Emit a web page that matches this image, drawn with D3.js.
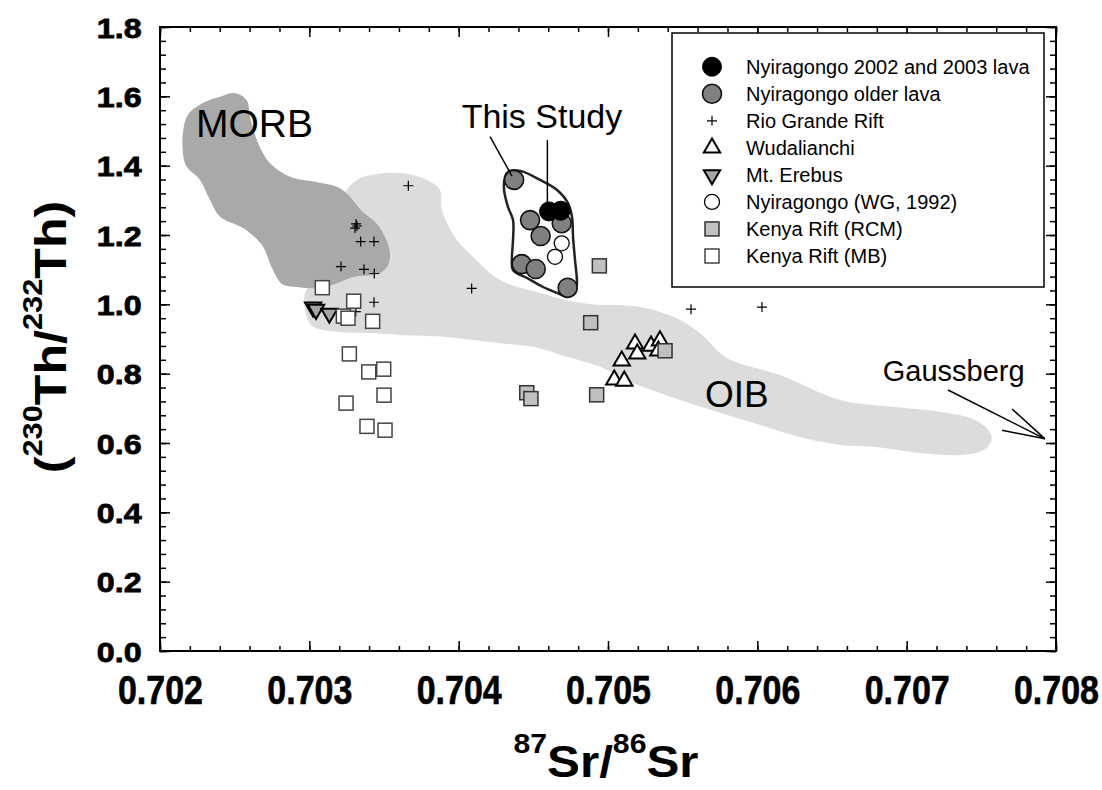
<!DOCTYPE html>
<html>
<head>
<meta charset="utf-8">
<script src="https://cdn.jsdelivr.net/npm/d3@7"></script>
<style>
body { margin: 0; background: #fff; }
svg { display: block; }
text { font-family: "Liberation Sans", Arial, sans-serif; }
</style>
</head>
<body>
<script>
// axis ticks
var xTicks = [0.702, 0.703, 0.704, 0.705, 0.706, 0.707, 0.708];
var xTickLabels = ["0.702", "0.703", "0.704", "0.705", "0.706", "0.707", "0.708"];
var yTicks = [0, 0.2, 0.4, 0.6, 0.8, 1.0, 1.2, 1.4, 1.6, 1.8];
var yTickLabels = ["0.0", "0.2", "0.4", "0.6", "0.8", "1.0", "1.2", "1.4", "1.6", "1.8"];

// [87Sr/86Sr, (230Th/232Th)]
var newLava = [[0.704605, 1.268], [0.704683, 1.270]];
var olderLava = [[0.704371, 1.359], [0.704478, 1.243], [0.704690, 1.234], [0.704549, 1.197],
                 [0.704422, 1.116], [0.704516, 1.102], [0.704730, 1.048]];
var rioGrande = [[0.703663, 1.342], [0.703313, 1.232], [0.703319, 1.226], [0.703306, 1.220],
                 [0.703344, 1.181], [0.703433, 1.181], [0.703212, 1.109], [0.703366, 1.101],
                 [0.703435, 1.089], [0.703433, 1.006], [0.703311, 0.979], [0.704087, 1.046],
                 [0.705556, 0.986], [0.706031, 0.992]];
var wudalianchi = [[0.705181, 0.886], [0.705288, 0.880], [0.705348, 0.895], [0.705196, 0.857],
                   [0.705337, 0.866], [0.705092, 0.837], [0.705042, 0.782], [0.705109, 0.779]];
var erebus = [[0.703025, 0.992], [0.703045, 0.985], [0.703134, 0.974]];
var wg1992 = [[0.704690, 1.176], [0.704645, 1.137]];
var kenyaRcm = [[0.704942, 1.111], [0.704884, 0.947], [0.705382, 0.866], [0.704456, 0.745],
                [0.704484, 0.728], [0.704924, 0.739]];
var kenyaMb = [[0.703087, 1.048], [0.703297, 1.009], [0.703228, 0.966], [0.703259, 0.960],
               [0.703424, 0.951], [0.703268, 0.857], [0.703398, 0.805], [0.703498, 0.813],
               [0.703500, 0.738], [0.703246, 0.715], [0.703386, 0.648], [0.703507, 0.637]];

// field outlines
var morbOutline = [[0.702402, 1.599], [0.702502, 1.609], [0.702581, 1.589], [0.702603, 1.541],
  [0.702658, 1.464], [0.702737, 1.407], [0.702871, 1.368], [0.703027, 1.354], [0.703183, 1.339],
  [0.703250, 1.320], [0.703359, 1.266], [0.703453, 1.232], [0.703507, 1.194], [0.703540, 1.148],
  [0.703527, 1.113], [0.703473, 1.090], [0.703292, 1.079], [0.703185, 1.061], [0.703071, 1.047],
  [0.702917, 1.050], [0.702817, 1.059], [0.702750, 1.105], [0.702683, 1.171], [0.702556, 1.220],
  [0.702402, 1.253], [0.702335, 1.301], [0.702268, 1.359], [0.702167, 1.407], [0.702179, 1.541],
  [0.702288, 1.581]];
var oibOutline = [[0.703172, 1.258], [0.703205, 1.301], [0.703250, 1.330], [0.703317, 1.359],
  [0.703451, 1.376], [0.703627, 1.378], [0.703786, 1.359], [0.703875, 1.330], [0.703888, 1.272],
  [0.703987, 1.186], [0.704096, 1.137], [0.704210, 1.090], [0.704322, 1.061], [0.704545, 1.033],
  [0.704766, 1.008], [0.704947, 0.998], [0.705060, 0.998], [0.705214, 0.992], [0.705348, 0.978],
  [0.705482, 0.955], [0.705616, 0.917], [0.705797, 0.845], [0.706152, 0.796], [0.706554, 0.724],
  [0.706889, 0.705], [0.707223, 0.690], [0.707424, 0.672], [0.707536, 0.643], [0.707570, 0.614],
  [0.707545, 0.589], [0.707491, 0.575], [0.707335, 0.565], [0.707089, 0.571], [0.706775, 0.589],
  [0.706554, 0.594], [0.706286, 0.617], [0.706018, 0.652], [0.705616, 0.705], [0.705348, 0.744],
  [0.705168, 0.773], [0.704947, 0.820], [0.704726, 0.849], [0.704498, 0.878], [0.704277, 0.888],
  [0.703875, 0.907], [0.703627, 0.911], [0.703406, 0.917], [0.703183, 0.921], [0.703025, 0.935],
  [0.702982, 0.964], [0.702971, 1.033], [0.703038, 1.070], [0.703138, 1.157]];
var studyOutline = [[0.704330, 1.382], [0.704411, 1.385], [0.704545, 1.359], [0.704659, 1.330],
  [0.704732, 1.292], [0.704759, 1.252], [0.704766, 1.194], [0.704779, 1.128], [0.704792, 1.061],
  [0.704779, 1.033], [0.704732, 1.021], [0.704659, 1.033], [0.704565, 1.050], [0.704458, 1.076],
  [0.704364, 1.099], [0.704357, 1.136], [0.704364, 1.186], [0.704364, 1.243], [0.704330, 1.281],
  [0.704304, 1.330], [0.704310, 1.367]];

// annotation leaders and labels
var studyLeaders = [[[0.704210, 1.484], [0.704357, 1.370]], [[0.704594, 1.474], [0.704594, 1.286]]];
var gaussbergLeaders = [[[0.707277, 0.753], [0.707926, 0.612]], [[0.707706, 0.698], [0.707926, 0.612]],
                        [[0.707639, 0.637], [0.707926, 0.612]]];
var fieldLabels = [
  {text: "MORB", at: [0.702241, 1.483], size: 39},
  {text: "This Study", at: [0.704020, 1.509], size: 34},
  {text: "OIB", at: [0.705650, 0.705], size: 37},
  {text: "Gaussberg", at: [0.706840, 0.780], size: 29}
];

var legendNames = ["Nyiragongo 2002 and 2003 lava", "Nyiragongo older lava", "Rio Grande Rift",
  "Wudalianchi", "Mt. Erebus", "Nyiragongo (WG, 1992)", "Kenya Rift (RCM)", "Kenya Rift (MB)"];
var legendKinds = ["newLava", "olderLava", "rio", "wuda", "erebus", "wg", "rcm", "mb"];

var width = 1102, height = 790;
var svg = d3.select("body").append("svg").attr("width", width).attr("height", height);

var x = d3.scaleLinear().domain([0.702, 0.708]).range([160, 1056]);
var y = d3.scaleLinear().domain([0, 1.8]).range([651, 27]);

var outline = d3.line()
    .x(function(d) { return x(d[0]); })
    .y(function(d) { return y(d[1]); })
    .curve(d3.curveCatmullRomClosed.alpha(0.5));

svg.append("path").datum(oibOutline).attr("d", outline).attr("fill", "#dcdcdc");
svg.append("path").datum(morbOutline).attr("d", outline).attr("fill", "#a9a9a9");
svg.append("path").datum(studyOutline).attr("d", outline)
    .attr("fill", "none").attr("stroke", "#222").attr("stroke-width", 2.5);

var drawMarker = function(g, kind) {
    if (kind == "newLava") {
        g.append("circle").attr("r", 9.5).attr("fill", "#000").attr("stroke", "#000");
    } else if (kind == "olderLava") {
        g.append("circle").attr("r", 9.5).attr("fill", "#808080").attr("stroke", "#111").attr("stroke-width", 1.6);
    } else if (kind == "rio") {
        g.append("path").attr("d", "M-5,0H5M0,-5V5").attr("stroke", "#000").attr("stroke-width", 1.2);
    } else if (kind == "wuda") {
        g.append("path").attr("d", d3.symbol().type(d3.symbolTriangle).size(115)())
            .attr("fill", "#fff").attr("stroke", "#000").attr("stroke-width", 2);
    } else if (kind == "erebus") {
        g.append("path").attr("d", d3.symbol().type(d3.symbolTriangle).size(115)())
            .attr("transform", "rotate(180)")
            .attr("fill", "#a6a6a6").attr("stroke", "#000").attr("stroke-width", 2);
    } else if (kind == "wg") {
        g.append("circle").attr("r", 7.5).attr("fill", "#fff").attr("stroke", "#000").attr("stroke-width", 1.3);
    } else if (kind == "rcm") {
        g.append("rect").attr("x", -7).attr("y", -7).attr("width", 14).attr("height", 14)
            .attr("fill", "#c0c0c0").attr("stroke", "#333").attr("stroke-width", 1.5);
    } else if (kind == "mb") {
        g.append("rect").attr("x", -7).attr("y", -7).attr("width", 14).attr("height", 14)
            .attr("fill", "#fff").attr("stroke", "#444").attr("stroke-width", 1.5);
    }
};

var plotSeries = function(data, kind) {
    svg.append("g").selectAll("g").data(data).enter().append("g")
        .attr("transform", function(d) { return "translate(" + x(d[0]) + "," + y(d[1]) + ")"; })
        .each(function() { drawMarker(d3.select(this), kind); });
};

plotSeries(rioGrande, "rio");
plotSeries(erebus, "erebus");
plotSeries(wudalianchi, "wuda");
plotSeries(kenyaMb, "mb");
plotSeries(kenyaRcm, "rcm");
plotSeries(olderLava, "olderLava");
plotSeries(newLava, "newLava");
plotSeries(wg1992, "wg");

// leader lines
svg.append("g").selectAll("line").data(studyLeaders.concat(gaussbergLeaders)).enter().append("line")
    .attr("x1", function(d) { return x(d[0][0]); })
    .attr("y1", function(d) { return y(d[0][1]); })
    .attr("x2", function(d) { return x(d[1][0]); })
    .attr("y2", function(d) { return y(d[1][1]); })
    .attr("stroke", "#000").attr("stroke-width", 1.5);

svg.append("g").selectAll("text").data(fieldLabels).enter().append("text")
    .attr("x", function(d) { return x(d.at[0]); })
    .attr("y", function(d) { return y(d.at[1]); })
    .style("font-size", function(d) { return d.size + "px"; })
    .text(function(d) { return d.text; });

// axes: inward ticks on all four sides
var xMinor = d3.range(0.702, 0.70801, 0.0002);
var yMinor = d3.range(0, 1.8001, 0.04);

var tidy = function(g) {
    g.select(".domain").remove();
    g.selectAll("line").attr("stroke", "#000").attr("stroke-width", 1.5);
};

svg.append("g").attr("transform", "translate(0,651)")
    .call(d3.axisBottom(x).tickValues(xMinor).tickSizeInner(-5).tickSizeOuter(0).tickFormat(""))
    .call(tidy);
svg.append("g").attr("transform", "translate(0,27)")
    .call(d3.axisTop(x).tickValues(xMinor).tickSizeInner(-5).tickSizeOuter(0).tickFormat(""))
    .call(tidy);
svg.append("g").attr("transform", "translate(160,0)")
    .call(d3.axisLeft(y).tickValues(yMinor).tickSizeInner(-6).tickSizeOuter(0).tickFormat(""))
    .call(tidy);
svg.append("g").attr("transform", "translate(1056,0)")
    .call(d3.axisRight(y).tickValues(yMinor).tickSizeInner(-6).tickSizeOuter(0).tickFormat(""))
    .call(tidy);

var xAxis = svg.append("g").attr("transform", "translate(0,651)")
    .call(d3.axisBottom(x).tickValues(xTicks).tickSizeInner(-10).tickSizeOuter(0)
        .tickFormat(function(d, i) { return xTickLabels[i]; }))
    .call(tidy);
xAxis.selectAll("text")
    .attr("y", 53).attr("dy", null)
    .attr("transform", "scale(0.85,1)")
    .attr("fill", "#000").attr("stroke", "#000").attr("stroke-width", 0.6)
    .style("font-family", "'Liberation Sans', Arial, sans-serif")
    .style("font-size", "40px").style("font-weight", "bold");

svg.append("g").attr("transform", "translate(0,27)")
    .call(d3.axisTop(x).tickValues(xTicks).tickSizeInner(-10).tickSizeOuter(0).tickFormat(""))
    .call(tidy);
svg.append("g").attr("transform", "translate(1056,0)")
    .call(d3.axisRight(y).tickValues(yTicks).tickSizeInner(-10).tickSizeOuter(0).tickFormat(""))
    .call(tidy);

var yAxis = svg.append("g").attr("transform", "translate(160,0)")
    .call(d3.axisLeft(y).tickValues(yTicks).tickSizeInner(-10).tickSizeOuter(0)
        .tickFormat(function(d, i) { return yTickLabels[i]; }))
    .call(tidy);
yAxis.selectAll("text")
    .attr("x", -16).attr("dy", null).attr("y", 10)
    .attr("transform", "scale(1.15,1)")
    .attr("fill", "#000").attr("stroke", "#000").attr("stroke-width", 0.8)
    .style("font-family", "'Liberation Sans', Arial, sans-serif")
    .style("font-size", "28px").style("font-weight", "bold");

// frame
svg.append("rect")
    .attr("x", x(0.702)).attr("y", y(1.8))
    .attr("width", x(0.708) - x(0.702)).attr("height", y(0) - y(1.8))
    .attr("fill", "none").attr("stroke", "#000").attr("stroke-width", 2);

// axis titles
var xTitle = svg.append("text")
    .attr("transform", "translate(606,777) scale(1.12,1)")
    .attr("text-anchor", "middle")
    .style("font-weight", "bold").style("font-size", "44px");
xTitle.append("tspan").attr("dy", -24).style("font-size", "27px").text("87");
xTitle.append("tspan").attr("dy", 24).text("Sr/");
xTitle.append("tspan").attr("dy", -24).style("font-size", "27px").text("86");
xTitle.append("tspan").attr("dy", 24).text("Sr");

var yTitle = svg.append("text")
    .attr("transform", "translate(66,337) rotate(-90) scale(1.14,1)")
    .attr("text-anchor", "middle")
    .style("font-weight", "bold").style("font-size", "44px");
yTitle.append("tspan").text("(");
yTitle.append("tspan").attr("dy", -24).style("font-size", "27px").text("230");
yTitle.append("tspan").attr("dy", 24).text("Th/");
yTitle.append("tspan").attr("dy", -24).style("font-size", "27px").text("232");
yTitle.append("tspan").attr("dy", 24).text("Th)");

// legend
var legend = svg.append("g");
legend.append("rect").attr("x", 672).attr("y", 33).attr("width", 372).attr("height", 254)
    .attr("fill", "#fff").attr("stroke", "#000").attr("stroke-width", 1.5);
var rowY = d3.scalePoint().domain(legendNames).range([66.7, 256]);
var rows = legend.selectAll("g.row").data(legendNames).enter().append("g")
    .attr("class", "row")
    .attr("transform", function(d) { return "translate(0," + rowY(d) + ")"; });
rows.append("g").attr("transform", "translate(712,0)")
    .each(function(d, i) { drawMarker(d3.select(this), legendKinds[i]); });
rows.append("text").attr("x", 746).attr("y", 7)
    .style("font-size", "20px")
    .text(function(d) { return d; });
</script>
</body>
</html>
